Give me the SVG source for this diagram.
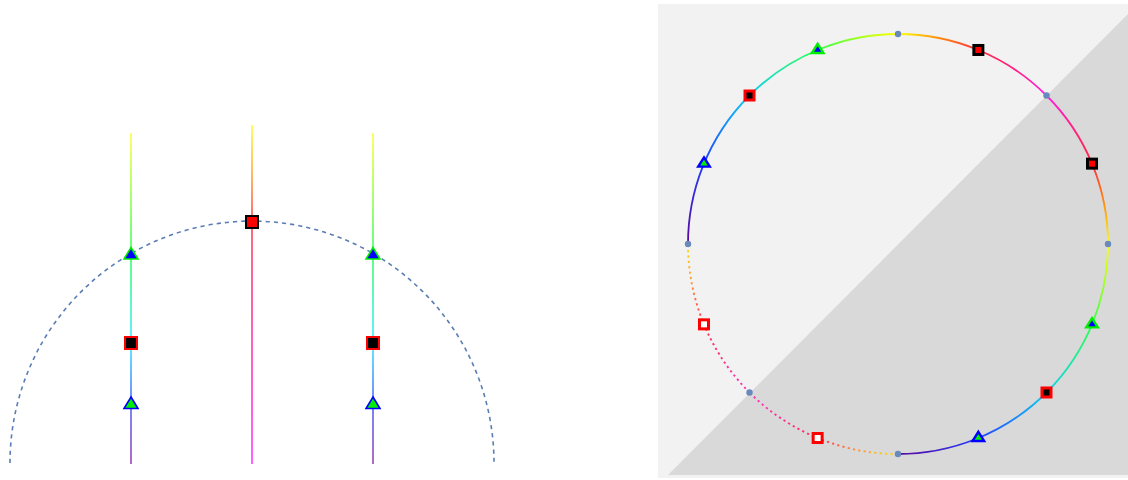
<svg xmlns="http://www.w3.org/2000/svg" width="1128" height="480" viewBox="0 0 1128 480">
<style>
.vline{fill:none;stroke-width:2;stroke-opacity:0.62}
.arc{fill:none;stroke-width:1.8}
.dotted{fill:none;stroke-width:1.9;stroke-dasharray:2.2 3.2}
.guide{fill:none;stroke:#5a7db3;stroke-width:1.6;stroke-dasharray:4.2 4}
.dot{fill:#6a89bb}
.sqA{fill:#ff0000;stroke:#000000;stroke-width:2}
.sqB{fill:#000000;stroke:#ff0000;stroke-width:2}
.triA{fill:#0000ff;stroke:#00ee00;stroke-width:1.6;stroke-linejoin:miter}
.triB{fill:#00ee00;stroke:#0000ff;stroke-width:1.6;stroke-linejoin:miter}
.rsqA{fill:#ff0000;stroke:#000000;stroke-width:3}
.rsqB{fill:#000000;stroke:#ff0000;stroke-width:3}
.rsqC{fill:#ffffff;stroke:#ff0000;stroke-width:3}
.rtriA{fill:#0000ff;stroke:#00ee00;stroke-width:2.4}
.rtriB{fill:#00ee00;stroke:#0000ff;stroke-width:2.4}
</style>
<defs>
<linearGradient id="gSide" gradientUnits="userSpaceOnUse" x1="0" y1="133" x2="0" y2="464">
<stop offset="0" stop-color="#ffff00"/>
<stop offset="0.36" stop-color="#00ff30"/>
<stop offset="0.63" stop-color="#00e8ff"/>
<stop offset="0.81" stop-color="#1a40ff"/>
<stop offset="1" stop-color="#8010a0"/>
</linearGradient>
<linearGradient id="gMid" gradientUnits="userSpaceOnUse" x1="0" y1="125" x2="0" y2="464">
<stop offset="0" stop-color="#ffff00"/>
<stop offset="0.13" stop-color="#ff9a00"/>
<stop offset="0.28" stop-color="#ff1020"/>
<stop offset="0.55" stop-color="#ff0078"/>
<stop offset="1" stop-color="#ff00ff"/>
</linearGradient>
<linearGradient id="gA" gradientUnits="userSpaceOnUse" x1="688" y1="244" x2="898" y2="34">
<stop offset="0" stop-color="#5a0aa0"/>
<stop offset="0.23" stop-color="#2040ff"/>
<stop offset="0.5" stop-color="#10d0f0"/>
<stop offset="0.77" stop-color="#30ff50"/>
<stop offset="1" stop-color="#ffff00"/>
</linearGradient>
<linearGradient id="gB" gradientUnits="userSpaceOnUse" x1="898" y1="34" x2="1046.49" y2="95.51">
<stop offset="0" stop-color="#ffff00"/>
<stop offset="0.25" stop-color="#ff8a10"/>
<stop offset="0.5" stop-color="#ff2a40"/>
<stop offset="0.78" stop-color="#ff2090"/>
<stop offset="1" stop-color="#ff20e0"/>
</linearGradient>
<linearGradient id="gC" gradientUnits="userSpaceOnUse" x1="1046.49" y1="95.51" x2="1108" y2="244">
<stop offset="0" stop-color="#ff20e0"/>
<stop offset="0.22" stop-color="#ff2090"/>
<stop offset="0.5" stop-color="#ff2a40"/>
<stop offset="0.75" stop-color="#ff8a10"/>
<stop offset="1" stop-color="#ffff00"/>
</linearGradient>
<linearGradient id="gD" gradientUnits="userSpaceOnUse" x1="1108" y1="244" x2="898" y2="454">
<stop offset="0" stop-color="#ffff00"/>
<stop offset="0.23" stop-color="#30ff50"/>
<stop offset="0.5" stop-color="#10d0f0"/>
<stop offset="0.77" stop-color="#2040ff"/>
<stop offset="1" stop-color="#5a0aa0"/>
</linearGradient>
<linearGradient id="gE" gradientUnits="userSpaceOnUse" x1="898" y1="454" x2="749.51" y2="392.49">
<stop offset="0" stop-color="#ffe000"/>
<stop offset="0.25" stop-color="#ff9040"/>
<stop offset="0.5" stop-color="#ff3050"/>
<stop offset="1" stop-color="#ff30c0"/>
</linearGradient>
<linearGradient id="gF" gradientUnits="userSpaceOnUse" x1="749.51" y1="392.49" x2="688" y2="244">
<stop offset="0" stop-color="#ff30c0"/>
<stop offset="0.5" stop-color="#ff3050"/>
<stop offset="0.75" stop-color="#ff9040"/>
<stop offset="1" stop-color="#ffe000"/>
</linearGradient>
<path id="triL" d="M0,-5.5 L7,6 L-7,6 Z"/>
<path id="triR" d="M0,-6.2 L5.8,3 L-5.8,3 Z"/>
<rect id="sqL" x="-6" y="-6" width="12" height="12"/>
<rect id="sqR" x="-4.5" y="-4.5" width="9" height="9"/>
</defs>

<!-- right panel background -->
<rect x="658" y="4" width="470" height="474" fill="#f2f2f2"/>
<polygon points="668,475 1128,14 1128,475" fill="#d9d9d9"/>

<!-- left panel guide -->
<path class="guide" d="M10,463 A242,242 0 0 1 494,463"/>

<g id="connectors">
<line class="vline" x1="131" y1="133" x2="131" y2="464" stroke="url(#gSide)"/>
<line class="vline" x1="252" y1="125" x2="252" y2="464" stroke="url(#gMid)"/>
<line class="vline" x1="373" y1="133" x2="373" y2="464" stroke="url(#gSide)"/>
<path class="arc" stroke="url(#gA)" d="M688,244 A210,210 0 0 1 898,34"/>
<path class="arc" stroke="url(#gB)" d="M898,34 A210,210 0 0 1 1046.49,95.51"/>
<path class="arc" stroke="url(#gC)" d="M1046.49,95.51 A210,210 0 0 1 1108,244"/>
<path class="arc" stroke="url(#gD)" d="M1108,244 A210,210 0 0 1 898,454"/>
<path class="dotted" stroke="url(#gE)" d="M898,454 A210,210 0 0 1 749.51,392.49"/>
<path class="dotted" stroke="url(#gF)" d="M749.51,392.49 A210,210 0 0 1 688,244"/>
</g>

<!-- left panel nodes -->
<g id="l-tri-1"><use href="#triL" class="triA" x="131" y="253"/></g>
<g id="l-sq-1"><use href="#sqL" class="sqB" x="131" y="343"/></g>
<g id="l-tri-2"><use href="#triL" class="triB" x="131" y="402.5"/></g>
<g id="l-sq-mid"><use href="#sqL" class="sqA" x="252" y="222"/></g>
<g id="l-tri-3"><use href="#triL" class="triA" x="373" y="253"/></g>
<g id="l-sq-2"><use href="#sqL" class="sqB" x="373" y="343"/></g>
<g id="l-tri-4"><use href="#triL" class="triB" x="373" y="402.5"/></g>

<!-- right panel dots -->
<g id="r-dot-90"><circle class="dot" cx="898" cy="34" r="3.2"/></g>
<g id="r-dot-45"><circle class="dot" cx="1046.49" cy="95.51" r="3.2"/></g>
<g id="r-dot-0"><circle class="dot" cx="1108" cy="244" r="3.2"/></g>
<g id="r-dot-270"><circle class="dot" cx="898" cy="454" r="3.2"/></g>
<g id="r-dot-225"><circle class="dot" cx="749.51" cy="392.49" r="3.2"/></g>
<g id="r-dot-180"><circle class="dot" cx="688" cy="244" r="3.2"/></g>

<!-- right panel markers -->
<g id="r-sq-67"><use href="#sqR" class="rsqA" x="978.36" y="49.99"/></g>
<g id="r-sq-22"><use href="#sqR" class="rsqA" x="1092.01" y="163.64"/></g>
<g id="r-sq-135"><use href="#sqR" class="rsqB" x="749.51" y="95.51"/></g>
<g id="r-sq-315"><use href="#sqR" class="rsqB" x="1046.49" y="392.49"/></g>
<g id="r-sq-202"><use href="#sqR" class="rsqC" x="703.99" y="324.36"/></g>
<g id="r-sq-247"><use href="#sqR" class="rsqC" x="817.64" y="438.01"/></g>
<g id="r-tri-112"><use href="#triR" class="rtriA" x="817.64" y="49.99"/></g>
<g id="r-tri-337"><use href="#triR" class="rtriA" x="1092.01" y="324.36"/></g>
<g id="r-tri-157"><use href="#triR" class="rtriB" x="703.99" y="163.64"/></g>
<g id="r-tri-292"><use href="#triR" class="rtriB" x="978.36" y="438.01"/></g>
</svg>
